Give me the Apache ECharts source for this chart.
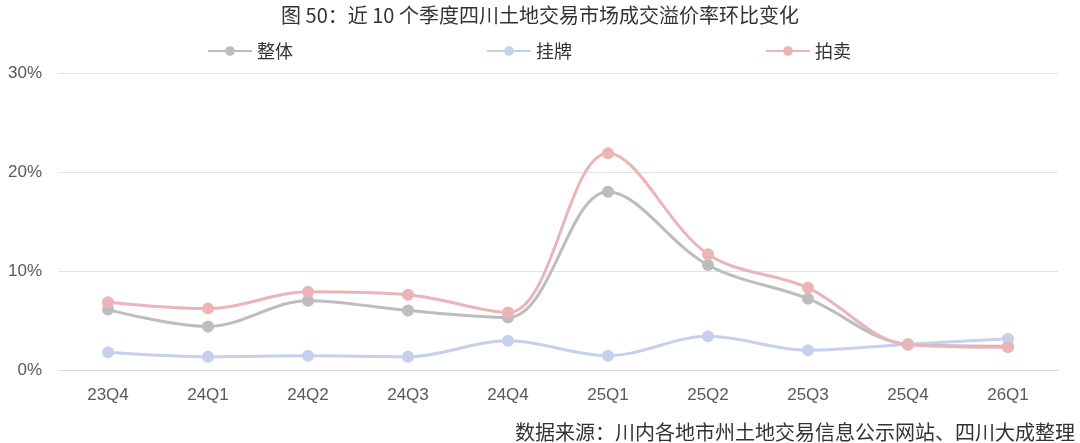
<!DOCTYPE html>
<html>
<head>
<meta charset="utf-8">
<script src="https://cdn.jsdelivr.net/npm/echarts@6/dist/echarts.min.js"></script>
<style>
html,body{margin:0;padding:0;background:#fff;}
#c{width:1080px;height:443px;}
</style>
</head>
<body>
<div id="c"></div>
<script>
const categories = ['23Q4','24Q1','24Q2','24Q3','24Q4','25Q1','25Q2','25Q3','25Q4','26Q1'];
const overall = [6.1, 4.4, 7.0, 6.0, 5.3, 18.0, 10.6, 7.2, 2.6, 2.4];
const listing = [1.8, 1.35, 1.45, 1.35, 2.95, 1.45, 3.4, 2.0, 2.6, 3.15];
const auction = [6.85, 6.2, 7.9, 7.6, 5.8, 21.9, 11.7, 8.3, 2.55, 2.3];
const seriesNames = ['整体','挂牌','拍卖'];
const colors = ['#BDBDBD','#C6D0EC','#EBB5B7'];
const yTicks = [0, 10, 20, 30];

const font = '"Noto Sans CJK SC", "Noto Sans", sans-serif';
const chart = echarts.init(document.getElementById('c'));
function mk(name, data, color){
  return {
    name, type:'line', data, smooth:0.35,
    symbol:'circle', symbolSize:12,
    lineStyle:{width:3,color}, itemStyle:{color},
    emphasis:{disabled:true}
  };
}
chart.setOption({
  animation:false,
  textStyle:{fontFamily:font},
  title:{
    text:'图 50：近 10 个季度四川土地交易市场成交溢价率环比变化',
    left:'center', top:0,
    textStyle:{fontSize:20,fontWeight:'normal',color:'#333',fontFamily:font}
  },
  legend:{
    data:seriesNames, left:202, top:37, itemGap:193,
    itemWidth:44, itemHeight:12,
    textStyle:{fontSize:18,color:'#333',fontFamily:font}
  },
  grid:{left:58, right:22, top:73, bottom:73},
  xAxis:{
    type:'category', data:categories, boundaryGap:true,
    axisLine:{show:true,lineStyle:{color:'#D9D9D9',width:1}},
    axisTick:{show:false},
    axisLabel:{fontSize:17,color:'#595959',margin:17,fontFamily:'"Liberation Sans", sans-serif'}
  },
  yAxis:{
    type:'value', min:0, max:30, interval:10,
    axisLine:{show:false}, axisTick:{show:false},
    splitLine:{lineStyle:{color:'#E3E3E3',width:1}},
    axisLabel:{fontSize:17,color:'#595959',margin:16,formatter:v=>v+'%',fontFamily:'"Liberation Sans", sans-serif'}
  },
  graphic:[{
    type:'text', right:5, bottom:1,
    style:{text:'数据来源：川内各地市州土地交易信息公示网站、四川大成整理',fontSize:20,fill:'#333',fontFamily:font}
  }],
  series:[
    mk(seriesNames[0], overall, colors[0]),
    mk(seriesNames[1], listing, colors[1]),
    mk(seriesNames[2], auction, colors[2])
  ]
});
</script>
</body>
</html>
